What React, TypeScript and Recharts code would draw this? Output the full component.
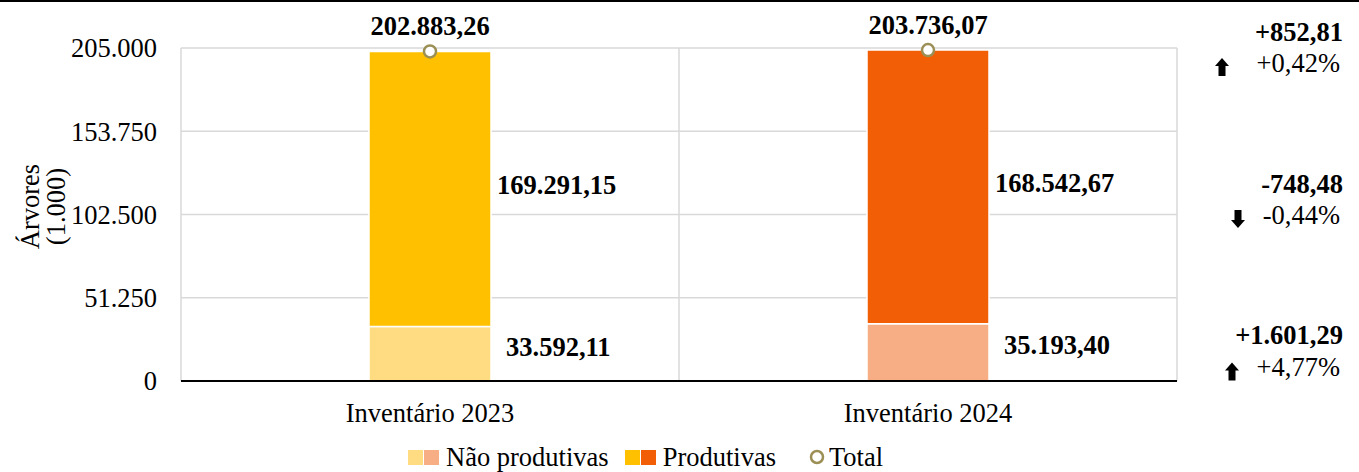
import React from "react";
import {
  ComposedChart,
  Bar,
  Line,
  XAxis,
  YAxis,
  CartesianGrid,
  Cell,
  LabelList,
  Legend,
} from "recharts";

const categories = ["Inventário 2023", "Inventário 2024"];
const naoProdutivas = [33592.11, 35193.4];
const produtivas = [169291.15, 168542.67];
const totals = [202883.26, 203736.07];
const yTicks = [0, 51250, 102500, 153750, 205000];

const naoColors = ["#FFDC82", "#F8AE85"];
const prodColors = ["#FFC000", "#F25E05"];

// variação 2023 -> 2024
const deltaTotal = ["+852,81", "+0,42%"];
const deltaProd = ["-748,48", "-0,44%"];
const deltaNao = ["+1.601,29", "+4,77%"];

const data = categories.map((name, i) => ({
  name,
  nao: naoProdutivas[i],
  prod: produtivas[i],
  total: totals[i],
}));

const FONT = '"Liberation Serif", "Times New Roman", serif';
const FS = 26.5;
const MARKER = "#9C8F55";

function fmtBR(v: number, decimals = 2) {
  const [int, dec] = v.toFixed(decimals).split(".");
  const withDots = int.replace(/\B(?=(\d{3})+(?!\d))/g, ".");
  return dec ? `${withDots},${dec}` : withDots;
}

function Arrow({ x, y, up }: { x: number; y: number; up: boolean }) {
  const s = up ? 1 : -1;
  const d = [
    `M${x},${y - 9 * s}`,
    `L${x + 7},${y - 1 * s}`,
    `L${x + 3.5},${y - 1 * s}`,
    `L${x + 3.5},${y + 9 * s}`,
    `L${x - 3.5},${y + 9 * s}`,
    `L${x - 3.5},${y - 1 * s}`,
    `L${x - 7},${y - 1 * s}`,
    "Z",
  ].join(" ");
  return <path d={d} fill="#000" />;
}

function Delta({
  right,
  yBold,
  yPct,
  arrowDx,
  texts,
}: {
  right: number;
  yBold: number;
  yPct: number;
  arrowDx: number;
  texts: string[];
}) {
  const up = !texts[0].startsWith("-");
  return (
    <g>
      <text x={right} y={yBold} textAnchor="end" fontFamily={FONT} fontSize={FS} fontWeight="bold" fill="#000">
        {texts[0]}
      </text>
      <text x={right - 3} y={yPct} textAnchor="end" fontFamily={FONT} fontSize={FS} fill="#000">
        {texts[1]}
      </text>
      <Arrow x={right + arrowDx} y={yPct - 5} up={up} />
    </g>
  );
}

const renderTotalLabel = (p: any) => {
  const { x, y, value, index } = p;
  return (
    <g>
      <text x={x} y={y - 16} textAnchor="middle" fontFamily={FONT} fontSize={FS} fontWeight="bold" fill="#000">
        {fmtBR(value)}
      </text>
      {index === 1 && (
        <Delta right={x + 415} yBold={y - 9} yPct={y + 22} arrowDx={-121} texts={deltaTotal} />
      )}
    </g>
  );
};

const renderProdLabel = (p: any) => {
  const { x, y, width, height, value, index } = p;
  const cy = y + height / 2;
  return (
    <g>
      <text x={x + width + 6} y={cy + 5} fontFamily={FONT} fontSize={FS} fontWeight="bold" fill="#000">
        {fmtBR(value)}
      </text>
      {index === 1 && (
        <Delta right={x + width + 354} yBold={cy + 6} yPct={cy + 37} arrowDx={-105} texts={deltaProd} />
      )}
    </g>
  );
};

const renderNaoLabel = (p: any) => {
  const { x, y, width, height, value, index } = p;
  const cy = y + height / 2;
  return (
    <g>
      <text x={x + width + 15} y={cy + 2} fontFamily={FONT} fontSize={FS} fontWeight="bold" fill="#000">
        {fmtBR(value)}
      </text>
      {index === 1 && (
        <Delta right={x + width + 354} yBold={cy - 8} yPct={cy + 24} arrowDx={-111} texts={deltaNao} />
      )}
    </g>
  );
};

const renderYLabel = (p: any) => {
  const { viewBox } = p;
  const cy = viewBox.y + viewBox.height / 2 - 8;
  return (
    <g>
      <text x={30} y={cy} transform={`rotate(-90 30 ${cy})`} textAnchor="middle" dominantBaseline="central" fontFamily={FONT} fontSize={FS} fill="#000">
        Árvores
      </text>
      <text x={56} y={cy} transform={`rotate(-90 56 ${cy})`} textAnchor="middle" dominantBaseline="central" fontFamily={FONT} fontSize={FS} fill="#000">
        (1.000)
      </text>
    </g>
  );
};

const Swatch = ({ colors }: { colors: string[] }) => (
  <span style={{ display: "inline-flex", gap: 1, marginRight: 7 }}>
    {colors.map((c) => (
      <span key={c} style={{ width: 15, height: 15, background: c, display: "inline-block" }} />
    ))}
  </span>
);

const renderLegend = () => (
  <div
    style={{
      height: 30,
      display: "flex",
      alignItems: "center",
      paddingLeft: 408,
      fontFamily: FONT,
      fontSize: FS,
      color: "#000",
      whiteSpace: "nowrap",
    }}
  >
    <Swatch colors={naoColors} />
    <span style={{ marginRight: 16 }}>Não produtivas</span>
    <Swatch colors={prodColors} />
    <span style={{ marginRight: 33 }}>Produtivas</span>
    <svg width={16} height={16} style={{ marginRight: 4 }}>
      <circle cx={8} cy={8} r={6} fill="#fff" stroke={MARKER} strokeWidth={2.5} />
    </svg>
    <span>Total</span>
  </div>
);

export default function App() {
  return (
    <div style={{ position: "absolute", left: 0, top: 0, width: 1359, height: 472, background: "#fff" }}>
      <div style={{ position: "absolute", left: 0, top: 0, width: 1359, height: 2, background: "#000" }} />
      <ComposedChart
        width={1359}
        height={472}
        data={data}
        margin={{ top: 48, right: 182, left: 0, bottom: 0 }}
      >
        <CartesianGrid
          stroke="#D9D9D9"
          strokeWidth={1.5}
          verticalCoordinatesGenerator={({ offset }: any) => [
            offset.left,
            offset.left + offset.width / 2,
            offset.left + offset.width,
          ]}
        />
        <XAxis
          dataKey="name"
          tickLine={false}
          tickSize={0}
          tickMargin={22}
          height={61}
          axisLine={{ stroke: "#000", strokeWidth: 2 }}
          tick={{ fontSize: FS, fill: "#000", fontFamily: FONT }}
        />
        <YAxis
          width={181}
          domain={[0, 205000]}
          ticks={yTicks}
          tickFormatter={(v: number) => fmtBR(v, 0)}
          tickLine={false}
          tickSize={0}
          tickMargin={24}
          axisLine={false}
          tick={{ fontSize: FS, fill: "#000", fontFamily: FONT }}
          label={{ content: renderYLabel }}
        />
        <Legend verticalAlign="bottom" content={renderLegend} wrapperStyle={{ left: 0, width: 1359 }} />
        <Bar dataKey="nao" name="Não produtivas" stackId="a" barSize={122} isAnimationActive={false}>
          {data.map((_, i) => (
            <Cell key={i} fill={naoColors[i]} stroke="#fff" strokeWidth={1.5} />
          ))}
          <LabelList dataKey="nao" content={renderNaoLabel} />
        </Bar>
        <Bar dataKey="prod" name="Produtivas" stackId="a" barSize={122} isAnimationActive={false}>
          {data.map((_, i) => (
            <Cell key={i} fill={prodColors[i]} stroke="#fff" strokeWidth={1.5} />
          ))}
          <LabelList dataKey="prod" content={renderProdLabel} />
        </Bar>
        <Line
          dataKey="total"
          name="Total"
          stroke="none"
          isAnimationActive={false}
          dot={{ r: 6, fill: "#fff", stroke: MARKER, strokeWidth: 2.5 }}
          activeDot={false}
        >
          <LabelList dataKey="total" content={renderTotalLabel} />
        </Line>
      </ComposedChart>
    </div>
  );
}
